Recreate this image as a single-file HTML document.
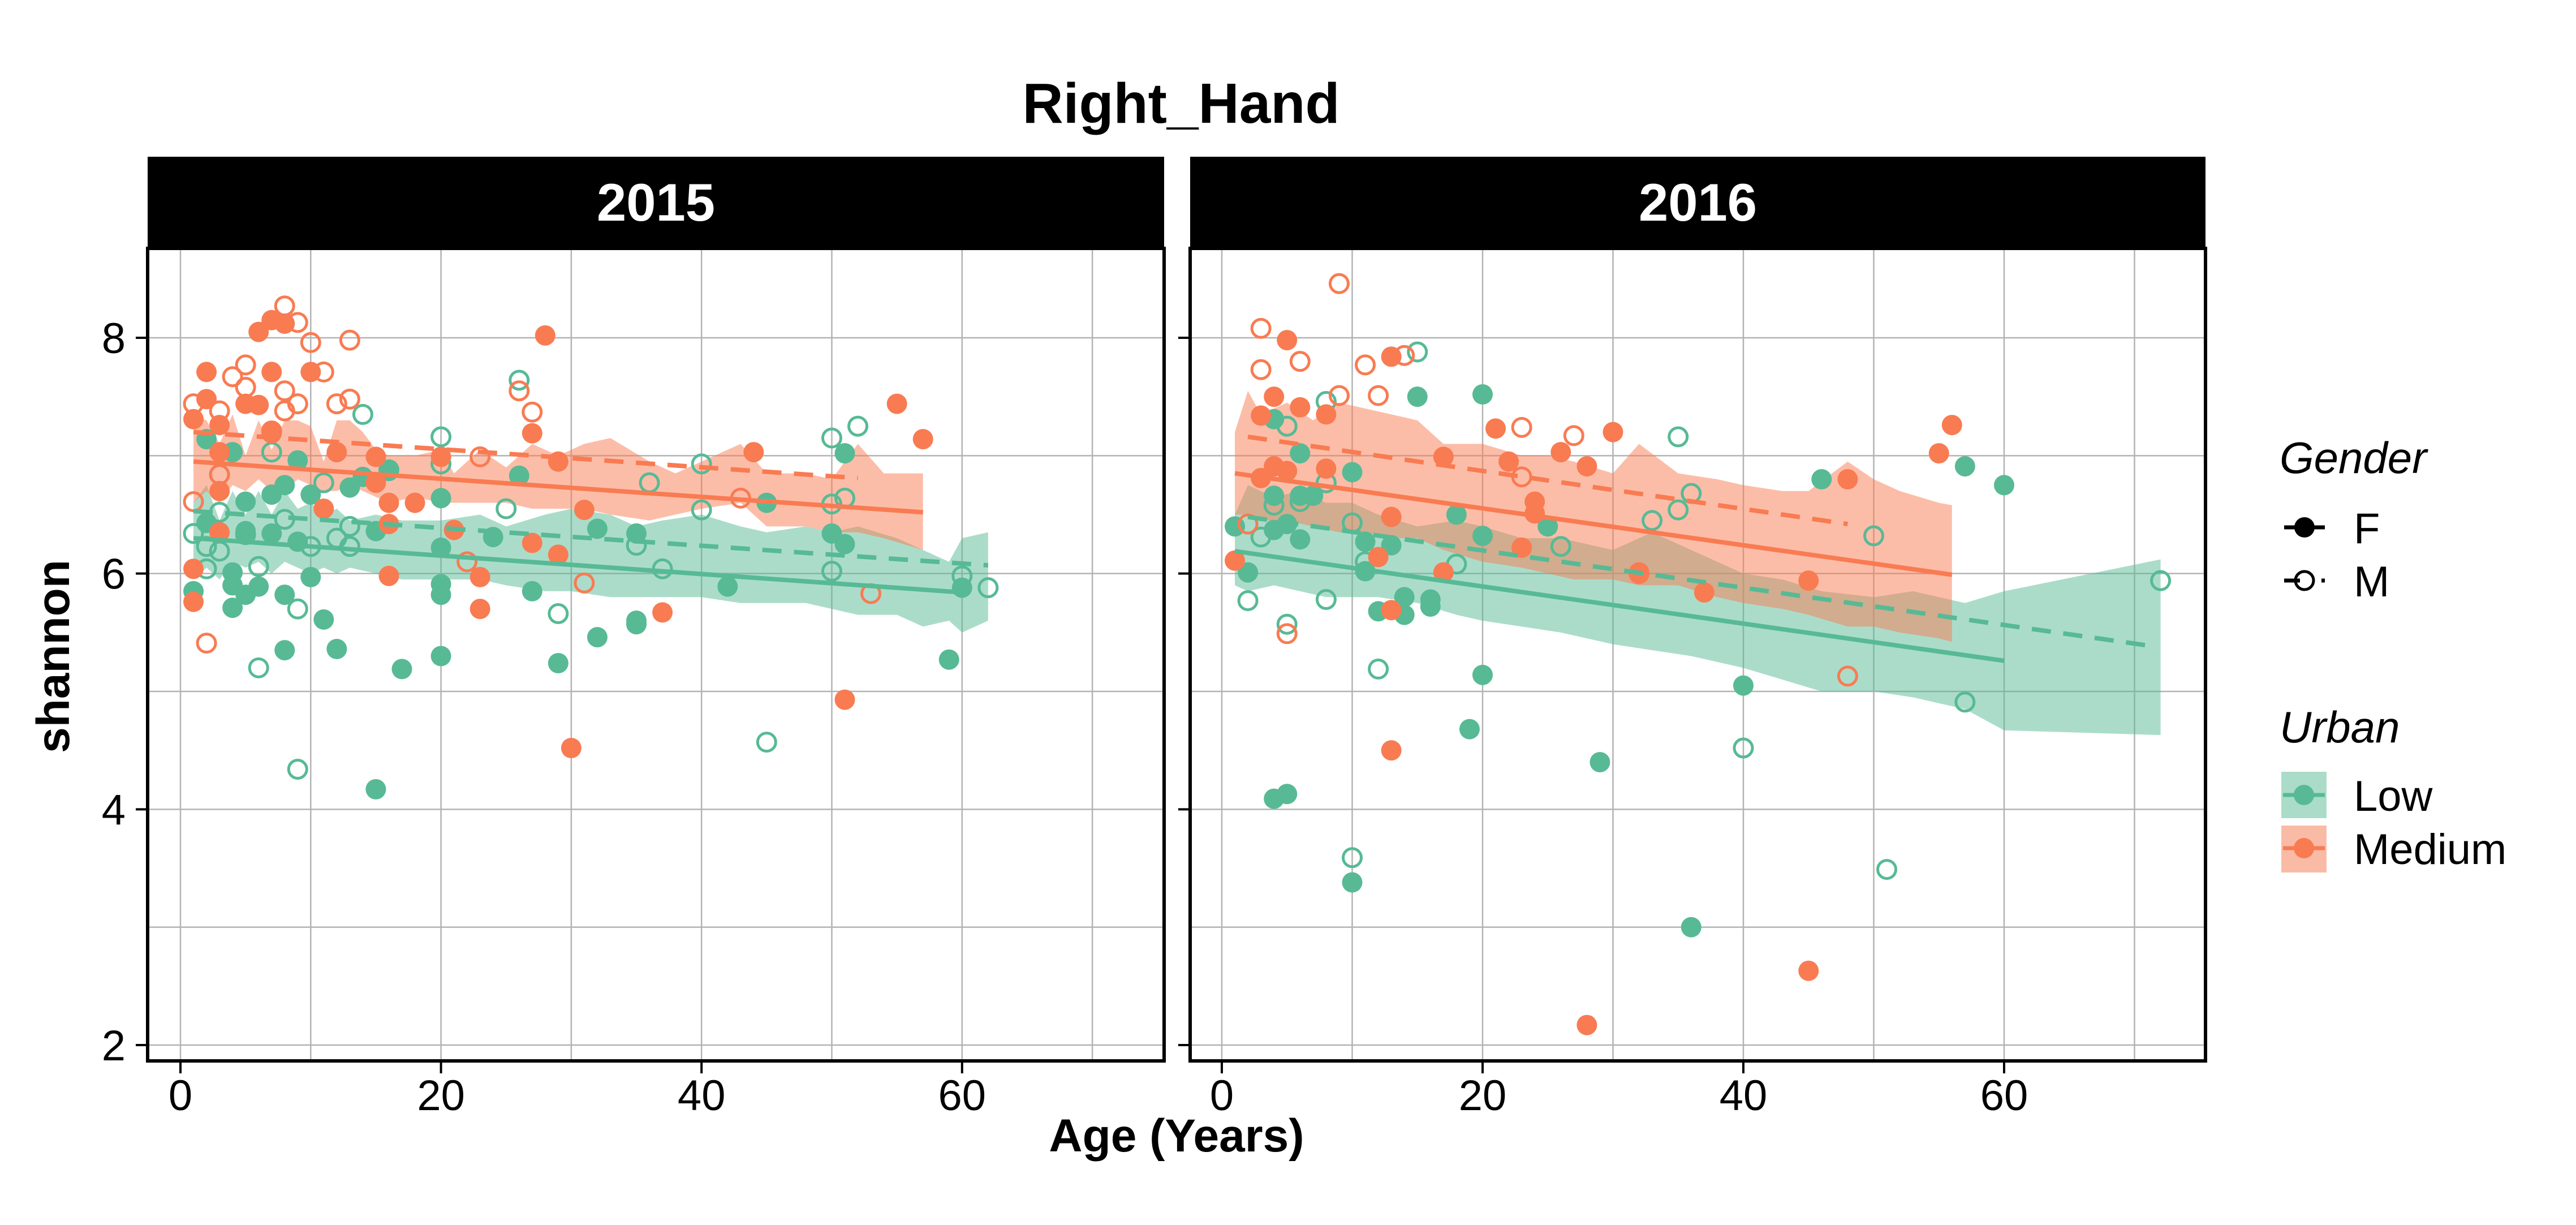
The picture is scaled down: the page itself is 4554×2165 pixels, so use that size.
<!DOCTYPE html>
<html><head><meta charset="utf-8"><style>
html,body{margin:0;padding:0;background:#fff}
svg{display:block}
text{font-family:"Liberation Sans",Arial,sans-serif}
</style></head><body>
<svg id="chart" width="4554" height="2165" viewBox="0 0 4554 2165" xmlns="http://www.w3.org/2000/svg">
<text x="2088" y="217" text-anchor="middle" font-size="100" font-weight="bold">Right_Hand</text>
<g id="panels"></g>
<text x="2080" y="2035" text-anchor="middle" font-size="82" font-weight="bold">Age (Years)</text>
<text transform="translate(122,1160) rotate(-90)" text-anchor="middle" font-size="82" font-weight="bold">shannon</text>
<g>
 <text x="4030" y="836" font-size="78" font-style="italic">Gender</text>
 <g>
  <line x1="4038" y1="932" x2="4110" y2="932" stroke="#000" stroke-width="7"/>
  <circle cx="4074" cy="932" r="18" fill="#000"/>
  <text x="4161" y="960" font-size="76">F</text>
 </g>
 <g>
  <line x1="4038" y1="1026" x2="4066" y2="1026" stroke="#000" stroke-width="7"/>
  <line x1="4104" y1="1026" x2="4110" y2="1026" stroke="#000" stroke-width="7"/>
  <circle cx="4074" cy="1026" r="16" fill="none" stroke="#000" stroke-width="5"/>
  <text x="4161" y="1054" font-size="76">M</text>
 </g>
 <text x="4030" y="1312" font-size="78" font-style="italic">Urban</text>
 <g>
  <rect x="4033" y="1364" width="80" height="82" fill="#ABDCC9"/>
  <line x1="4036" y1="1405" x2="4110" y2="1405" stroke="#57BA95" stroke-width="7"/>
  <circle cx="4073" cy="1405" r="18" fill="#57BA95"/>
  <text x="4161" y="1433" font-size="76">Low</text>
 </g>
 <g>
  <rect x="4033" y="1459" width="80" height="83" fill="#FABBA6"/>
  <line x1="4036" y1="1499" x2="4110" y2="1499" stroke="#F97B52" stroke-width="7"/>
  <circle cx="4073" cy="1499" r="18" fill="#F97B52"/>
  <text x="4161" y="1527" font-size="76">Medium</text>
 </g>
</g>
</svg>
<script>
// ---- data (ages, shannon values) ----
// 2015
const p15_medF_age=[1,1,1,2,2,3,3,3,3,5,6,6,7,7,7,8,10,11,12,15,15,16,16,16,18,20,21,23,23,27,27,28,29,29,30,31,37,44,51,55,57];
const p15_medF_val=[7.31,6.04,5.76,7.71,7.48,7.26,7.03,6.70,6.35,7.44,8.05,7.43,8.15,7.71,7.19,8.12,7.71,6.55,7.03,6.99,6.77,6.60,6.42,5.98,6.60,6.99,6.37,5.97,5.70,7.19,6.26,8.02,6.95,6.16,4.52,6.54,5.67,7.03,4.93,7.44,7.14];
const p15_medM_age=[1,1,2,3,3,4,5,5,7,8,8,8,9,9,10,11,12,13,13,22,23,26,27,31,43,53];
const p15_medM_val=[7.44,6.61,5.41,7.38,6.84,7.67,7.77,7.58,7.21,8.27,7.55,7.38,8.13,7.44,7.96,7.71,7.44,7.98,7.48,6.10,6.99,7.55,7.37,5.92,6.64,5.83];
const p15_lowF_age=[1,2,2,4,4,4,4,5,5,5,6,7,7,8,8,8,9,9,10,10,11,12,13,14,15,15,16,17,20,20,20,20,20,24,26,27,29,32,32,35,35,35,42,45,50,51,51,59,60];
const p15_lowF_val=[5.85,7.14,6.43,7.03,6.01,5.90,5.71,6.61,6.36,5.82,5.89,6.67,6.34,6.75,5.82,5.35,6.96,6.27,6.67,5.97,5.61,5.36,6.73,6.82,6.36,4.17,6.87,5.19,6.64,6.22,5.91,5.82,5.30,6.31,6.83,5.85,5.24,6.38,5.46,6.34,5.60,5.57,5.89,6.60,6.34,7.02,6.25,5.27,5.88];
const p15_lowM_age=[1,2,2,3,3,3,5,6,6,7,8,9,9,10,11,12,13,13,14,16,20,20,25,26,29,35,36,37,40,40,45,50,50,50,51,52,60,62];
const p15_lowM_val=[6.34,6.23,6.04,6.84,6.52,6.19,6.33,6.06,5.20,7.03,6.46,5.70,4.34,6.23,6.77,6.30,6.40,6.23,7.35,6.88,7.16,6.93,6.55,7.64,5.66,6.24,6.77,6.04,6.93,6.54,4.57,7.15,6.59,6.02,6.64,7.25,5.98,5.88];
// 2016
const p16_medF_age=[1,3,3,4,4,5,5,6,8,8,12,13,13,13,13,17,17,21,22,23,24,24,26,28,28,30,32,37,45,45,48,55,56];
const p16_medF_val=[6.11,7.34,6.81,7.50,6.91,7.98,6.87,7.41,7.35,6.89,6.14,7.84,6.48,5.69,4.50,6.01,6.99,7.23,6.95,6.22,6.61,6.51,7.03,6.91,2.17,7.20,6.01,5.84,5.94,2.63,6.80,7.02,7.26];
const p16_medM_age=[2,3,3,5,6,9,9,11,12,14,23,23,27,32,48];
const p16_medM_val=[6.42,8.08,7.73,5.49,7.80,8.46,7.51,7.77,7.51,7.85,7.24,6.82,7.17,6.00,5.13];
const p16_lowF_age=[1,2,4,4,4,4,5,5,6,6,6,7,10,10,11,11,12,13,14,14,15,16,16,18,19,20,20,20,25,29,36,40,46,57,60];
const p16_lowF_val=[6.40,6.01,7.31,6.66,6.37,4.09,6.42,4.13,7.02,6.66,6.29,6.66,6.86,3.38,6.27,6.02,5.68,6.24,5.80,5.65,7.50,5.78,5.72,6.50,4.68,7.52,6.32,5.14,6.40,4.40,3.00,5.05,6.80,6.91,6.75];
const p16_lowM_age=[2,3,4,5,5,6,8,8,8,10,10,11,12,15,18,26,33,35,35,36,40,50,51,57,72];
const p16_lowM_val=[5.77,6.31,6.58,7.25,5.57,6.61,7.46,6.77,5.78,6.43,3.59,6.10,5.19,7.88,6.08,6.23,6.45,7.16,6.54,6.68,4.52,6.32,3.49,4.91,5.94];
// fitted lines [x0,x1] -> [y0,y1]
const p15_fit_age=[[1,57],[1,52],[1,60],[1,62]];
const p15_fit_val=[[6.95,6.52],[7.20,6.81],[6.30,5.84],[6.53,6.07]];
const p16_fit_age=[[1,56],[2,48],[1,60],[2,71]];
const p16_fit_val=[[6.85,5.99],[7.16,6.42],[6.19,5.26],[6.48,5.39]];
// ribbons
const p15_medR_age=[1,2,3,4,5,6,7,8,9,10,11,12,13,14,15,16,18,20,21,23,25,27,29,31,33,36,38,40,43,45,48,50,52,54,57];
const p15_medR_hi=[7.35,7.3,7.1,7.35,7.0,7.3,7.05,7.3,7.3,7.25,6.95,7.3,7.3,7.2,7.05,7.0,7.0,7.05,6.85,7.05,6.9,7.1,7.0,7.1,7.15,6.95,6.85,6.95,7.1,6.85,6.85,6.8,7.1,6.85,6.85];
const p15_medR_lo=[6.6,6.7,6.6,6.75,6.7,6.8,6.7,6.7,6.8,6.75,6.7,6.7,6.75,6.7,6.65,6.6,6.65,6.6,6.6,6.6,6.6,6.55,6.55,6.55,6.5,6.45,6.5,6.55,6.6,6.4,6.4,6.35,6.35,6.3,6.2];
const p15_lowR_age=[1,2,3,4,5,6,7,8,9,10,11,12,13,15,17,20,23,25,28,30,33,35,37,40,43,45,48,50,52,55,57,59,60,62];
const p15_lowR_hi=[6.6,6.75,6.45,6.7,6.5,6.7,6.5,6.7,6.55,6.6,6.5,6.55,6.45,6.5,6.45,6.45,6.5,6.4,6.5,6.55,6.5,6.4,6.45,6.5,6.4,6.35,6.4,6.35,6.4,6.3,6.2,6.1,6.3,6.35];
const p15_lowR_lo=[5.95,6.05,5.95,6.1,6.05,6.1,6.0,6.1,6.05,6.0,6.05,6.0,6.05,6.0,5.95,5.95,5.95,5.9,5.85,5.85,5.8,5.8,5.8,5.8,5.75,5.75,5.75,5.7,5.65,5.65,5.55,5.6,5.5,5.6];
const p16_medR_age=[1,2,3,5,7,9,11,13,15,17,20,23,25,27,30,32,35,38,40,43,45,48,50,52,55,56];
const p16_medR_hi=[7.2,7.55,7.35,7.45,7.3,7.45,7.4,7.35,7.3,7.1,7.1,7.0,7.0,6.95,6.85,7.1,6.85,6.8,6.75,6.7,6.7,6.95,6.8,6.7,6.6,6.58];
const p16_medR_lo=[6.5,6.5,6.45,6.45,6.4,6.35,6.35,6.3,6.3,6.2,6.1,6.05,6.0,5.95,5.95,5.9,5.9,5.8,5.75,5.7,5.65,5.55,5.55,5.5,5.45,5.42];
const p16_lowR_age=[1,2,4,6,8,10,12,15,18,20,23,26,30,33,36,40,43,46,50,53,57,60,72];
const p16_lowR_hi=[6.5,6.75,6.65,6.7,6.6,6.6,6.5,6.4,6.45,6.4,6.3,6.3,6.2,6.35,6.2,6.0,5.95,5.85,5.8,5.85,5.75,5.85,6.12];
const p16_lowR_lo=[5.9,5.85,5.9,5.85,5.8,5.8,5.8,5.75,5.65,5.6,5.55,5.5,5.4,5.35,5.3,5.2,5.1,5.0,5.0,4.95,4.85,4.67,4.63];
const xTicks=[0,20,40,60], xMinor=[10,30,50,70], yTicks=[2,4,6,8], yMinor=[3,5,7];

const GREEN='#57BA95', ORANGE='#F97B52';
const NS='http://www.w3.org/2000/svg';
const root=document.getElementById('panels');
function mk(tag,attrs,parent){const e=document.createElementNS(NS,tag);for(const k in attrs)e.setAttribute(k,attrs[k]);(parent||root).appendChild(e);return e;}
const yTop=439, yBot=1875;
function ys(v){return 597+(8-v)*208.33;}
const panels=[
 {name:'2015',left:261,right:2058,x0:319,pp:23.03,labelsY:true,
  medF:[p15_medF_age,p15_medF_val],medM:[p15_medM_age,p15_medM_val],lowF:[p15_lowF_age,p15_lowF_val],lowM:[p15_lowM_age,p15_lowM_val],
  fitA:p15_fit_age,fitV:p15_fit_val,medR:[p15_medR_age,p15_medR_lo,p15_medR_hi],lowR:[p15_lowR_age,p15_lowR_lo,p15_lowR_hi]},
 {name:'2016',left:2104,right:3899,x0:2160,pp:23.05,labelsY:false,
  medF:[p16_medF_age,p16_medF_val],medM:[p16_medM_age,p16_medM_val],lowF:[p16_lowF_age,p16_lowF_val],lowM:[p16_lowM_age,p16_lowM_val],
  fitA:p16_fit_age,fitV:p16_fit_val,medR:[p16_medR_age,p16_medR_lo,p16_medR_hi],lowR:[p16_lowR_age,p16_lowR_lo,p16_lowR_hi]}
];
panels.forEach(p=>{
 const xs=a=>p.x0+a*p.pp;
 const g=mk('g',{});
 
 
 const strip=mk('rect',{x:p.left,y:277,width:p.right-p.left,height:160,fill:'#000'},g);
 
 
 const st=mk('text',{x:(p.left+p.right)/2,y:390,'text-anchor':'middle','font-size':94,'font-weight':'bold',fill:'#fff'},g);
 st.textContent=p.name;
 
 
 xMinor.concat(xTicks).forEach(t=>{const l=mk('line',{x1:xs(t),x2:xs(t),y1:yTop,y2:yBot,stroke:'#b3b3b3','stroke-width':2.5},g);
  
  });
 yMinor.concat(yTicks).forEach(t=>{const l=mk('line',{x1:p.left,x2:p.right,y1:ys(t),y2:ys(t),stroke:'#b3b3b3','stroke-width':2.5},g);
  
  });
 [[p.lowR,GREEN,'low'],[p.medR,ORANGE,'medium']].forEach(([r,c,n])=>{
  const pts=[];for(let i=0;i<r[0].length;i++)pts.push(xs(r[0][i])+','+ys(r[2][i]));
  for(let i=r[0].length-1;i>=0;i--)pts.push(xs(r[0][i])+','+ys(r[1][i]));
  const poly=mk('polygon',{points:pts.join(' '),fill:c,'fill-opacity':0.5},g);
  
  
 });
 [[p.lowF,GREEN,true,'low-f'],[p.lowM,GREEN,false,'low-m'],[p.medF,ORANGE,true,'medium-f'],[p.medM,ORANGE,false,'medium-m']].forEach(([d,c,filled,n])=>{
  for(let i=0;i<d[0].length;i++){
   const ci=filled?mk('circle',{cx:xs(d[0][i]),cy:ys(d[1][i]),r:18,fill:c},g):mk('circle',{cx:xs(d[0][i]),cy:ys(d[1][i]),r:16,fill:'none',stroke:c,'stroke-width':5},g);
   
   
  }
 });
 const fc=[ORANGE,ORANGE,GREEN,GREEN], fn=['fit-medium-f','fit-medium-m','fit-low-f','fit-low-m'];
 [2,3,0,1].forEach(k=>{
  const l=mk('line',{x1:xs(p.fitA[k][0]),x2:xs(p.fitA[k][1]),y1:ys(p.fitV[k][0]),y2:ys(p.fitV[k][1]),stroke:fc[k],'stroke-width':8},g);
  if(k%2===1)l.setAttribute('stroke-dasharray','34 22');
  
  
 });
 const b=mk('rect',{x:p.left,y:yTop,width:p.right-p.left,height:yBot-yTop,fill:'none',stroke:'#000','stroke-width':6},g);
 
 
 xTicks.forEach(t=>{
  mk('line',{x1:xs(t),x2:xs(t),y1:yBot+3,y2:yBot+22,stroke:'#000','stroke-width':4},g);
  const tx=mk('text',{x:xs(t),y:1962,'text-anchor':'middle','font-size':76},g);
  tx.textContent=t;
  
  
 });
 yTicks.forEach(t=>{
  mk('line',{x1:p.left-21,x2:p.left-3,y1:ys(t),y2:ys(t),stroke:'#000','stroke-width':4},g);
  if(p.labelsY){const tx=mk('text',{x:222,y:ys(t)+27,'text-anchor':'end','font-size':76},g);
   tx.textContent=t;
   
   }
 });
});
</script>
</body></html>
